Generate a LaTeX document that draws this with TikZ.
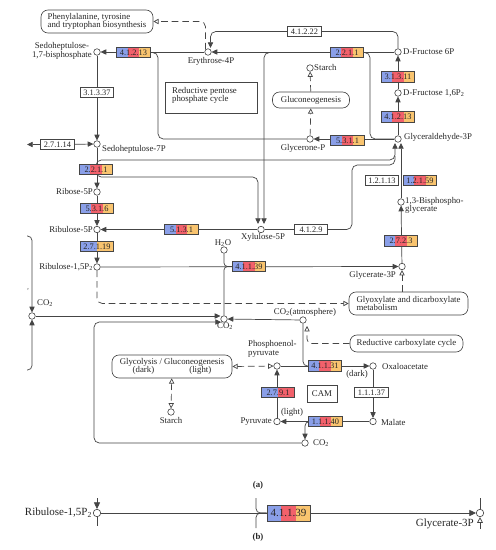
\documentclass[tikz,border=0pt]{standalone}
\usepackage{fontspec}
\setmainfont{Liberation Serif}
\usetikzlibrary{positioning,calc,arrows.meta,backgrounds}

\definecolor{ecblue}{HTML}{8A9FE8}
\definecolor{ecred}{HTML}{F2616B}
\definecolor{ecorange}{HTML}{F9C46F}
\definecolor{linegray}{HTML}{454545}

\newcommand{\lblfont}{\fontsize{10}{9.5}\selectfont}
\newcommand{\bigfont}{\fontsize{12.5}{12.5}\selectfont}
\newcommand{\ecfont}{\fontsize{9.5}{9.5}\selectfont}
\newcommand{\ctwo}{\textsubscript{2}}

\begin{document}
\begin{tikzpicture}[
        x=0.04cm, y=-0.04cm,
        every node/.style={font=\lblfont, text=black!85},
        cpd/.style={circle, draw=linegray, fill=white, line width=0.7pt, minimum size=0.26cm, inner sep=0pt},
        ecw/.style={rectangle, draw=linegray, fill=white, line width=0.6pt, minimum width=1.34cm, minimum height=0.42cm, inner sep=0pt, font=\ecfont},
        ec/.style n args={3}{ecw, path picture={
            \fill[#1] (path picture bounding box.south west) rectangle ($(path picture bounding box.north west)!1/3!(path picture bounding box.north east)$);
            \fill[#2] ($(path picture bounding box.south west)!1/3!(path picture bounding box.south east)$) rectangle ($(path picture bounding box.north west)!2/3!(path picture bounding box.north east)$);
            \fill[#3] ($(path picture bounding box.south west)!2/3!(path picture bounding box.south east)$) rectangle (path picture bounding box.north east);}},
        ecthree/.style={ec={ecblue}{ecred}{ecorange}},
        ectwo/.style 2 args={ecw, path picture={
            \fill[#1] (path picture bounding box.south west) rectangle (path picture bounding box.north);
            \fill[#2] (path picture bounding box.south) rectangle (path picture bounding box.north east);}},
        pmap/.style={rectangle, rounded corners=0.28cm, draw=linegray, fill=white, line width=0.7pt, inner sep=2pt},
        titlebox/.style={rectangle, draw=linegray, fill=white, line width=0.7pt, inner sep=2pt},
        line/.style={draw=linegray, line width=0.8pt},
        arr/.style={line, -{Triangle[length=6.5pt,width=6pt]}},
        arrb/.style={line, -{Triangle[length=7.5pt,width=7pt]}},
        dasharr/.style={line, dash pattern=on 7.5pt off 4.5pt, -{Triangle[open,length=6pt,width=6pt]}},
        dashboth/.style={line, dash pattern=on 7.5pt off 4.5pt, {Triangle[open,length=6pt,width=6pt]}-{Triangle[open,length=6pt,width=6pt]}},
        openarr/.style={line, -{Triangle[open,length=6.5pt,width=6.5pt]}}
        ]
        \useasboundingbox (0,0) rectangle (495,550);

        % pathway maps and title boxes
        \node[pmap, minimum width=4.48cm, minimum height=0.92cm, align=left] (phe) at (97,21.5) {Phenylalanine, tyrosine\\and tryptophan biosynthesis};
        \node[pmap, minimum width=3.08cm, minimum height=0.64cm] (glucon) at (311,100) {Gluconeogenesis};
        \node[titlebox, minimum width=3.68cm, minimum height=1.24cm] (rpp) at (211,97.5) {};
        \node[anchor=north west, align=left, inner sep=0pt] (rpplbl) at (172,87) {Reductive pentose\\phosphate cycle};
        \node[pmap, minimum width=4.76cm, minimum height=0.92cm, align=left] (glyox) at (408.5,303.5) {Glyoxylate and dicarboxylate\\metabolism};
        \node[pmap, minimum width=4.52cm, minimum height=0.68cm] (rcc) at (406.5,343.5) {Reductive carboxylate cycle};
        \node[pmap, minimum width=4.8cm, minimum height=0.92cm, align=center] (glyc) at (172,366.5) {Glycolysis / Gluconeogenesis\\(dark)\hspace{4em}(light)};
        \node[titlebox, minimum width=1.2cm, minimum height=0.68cm] (cam) at (322,393.5) {CAM};

        % compounds
        \node[cpd] (s17bp) at (97,52) {};
        \node[anchor=east, align=center, inner sep=0pt] (s17bplbl) at (92,51) {Sedoheptulose-\\1,7-bisphosphate};
        \node[cpd] (e4p) at (208,52) {};
        \node[anchor=north, inner sep=0pt] (e4plbl) at (211,57) {Erythrose-4P};
        \node[cpd] (f6p) at (398,52) {};
        \node[anchor=west, inner sep=0pt] (f6plbl) at (403,52) {D-Fructose 6P};
        \node[cpd] (fbp) at (398,93) {};
        \node[anchor=west, inner sep=0pt] (fbplbl) at (403,93) {D-Fructose 1,6P\ctwo};
        \node[cpd] (g3p) at (398,139) {};
        \node[anchor=west, inner sep=0pt] (g3plbl) at (404,137) {Glyceraldehyde-3P};
        \node[cpd] (dhap) at (310,139) {};
        \node[anchor=north, inner sep=0pt] (dhaplbl) at (303,144) {Glycerone-P};
        \node[cpd] (starcha) at (310,68) {};
        \node[anchor=west, inner sep=0pt] (starchalbl) at (314,67) {Starch};
        \node[cpd] (s7p) at (97,144) {};
        \node[anchor=west, inner sep=0pt] (s7plbl) at (102,149) {Sedoheptulose-7P};
        \node[cpd] (r5p) at (97,192) {};
        \node[anchor=east, inner sep=0pt] (r5plbl) at (93,191) {Ribose-5P};
        \node[cpd] (ru5p) at (97,229.5) {};
        \node[anchor=east, inner sep=0pt] (ru5plbl) at (93,229) {Ribulose-5P};
        \node[cpd] (x5p) at (261,229.5) {};
        \node[anchor=north, inner sep=0pt] (x5plbl) at (263,233.5) {Xylulose-5P};
        \node[cpd] (rubp) at (97,267) {};
        \node[anchor=east, inner sep=0pt] (rubplbl) at (93,267) {Ribulose-1,5P\ctwo};
        \node[cpd] (h2o) at (224,250) {};
        \node[anchor=south, inner sep=0pt] (h2olbl) at (223,246.5) {H\ctwo O};
        \node[cpd] (bpg) at (401,202) {};
        \node[anchor=west, align=left, inner sep=0pt] (bpglbl) at (405,205.5) {1,3-Bisphospho-\\glycerate};
        \node[cpd] (gly3p) at (402,266.5) {};
        \node[anchor=east, inner sep=0pt] (gly3plbl) at (396,275.5) {Glycerate-3P};
        \node[cpd] (co2a) at (32,316) {};
        \node[anchor=west, inner sep=0pt] (co2albl) at (37,303) {CO\ctwo};
        \node[cpd] (co2b) at (224,319) {};
        \node[anchor=north, inner sep=0pt] (co2blbl) at (225,322.5) {CO\ctwo};
        \node[cpd] (co2atm) at (303,320) {};
        \node[anchor=south, inner sep=0pt] (co2atmlbl) at (305,316.5) {CO\ctwo(atmosphere)};
        \node[cpd] (pep) at (277,366) {};
        \node[anchor=west, align=left, inner sep=0pt] (peplbl) at (248,349) {Phosphoenol-\\pyruvate};
        \node[cpd] (oaa) at (373,366) {};
        \node[anchor=west, inner sep=0pt] (oaalbl) at (382,366) {Oxaloacetate};
        \node[cpd] (pyr) at (277,421.5) {};
        \node[anchor=east, inner sep=0pt] (pyrlbl) at (272,421.5) {Pyruvate};
        \node[cpd] (mal) at (373,421.5) {};
        \node[anchor=west, inner sep=0pt] (mallbl) at (381,422) {Malate};
        \node[cpd] (co2c) at (305,443) {};
        \node[anchor=west, inner sep=0pt] (co2clbl) at (313,443) {CO\ctwo};
        \node[cpd] (starchb) at (171,412) {};
        \node[anchor=north, inner sep=0pt] (starchblbl) at (171,417) {Starch};
        \node[text=black!50, font=\fontsize{5}{5}\selectfont, inner sep=0pt] (stray) at (28,289) {e};
        \node[inner sep=0pt] (darklbl) at (357,374) {(dark)};
        \node[inner sep=0pt] (lightlbl) at (292,412) {(light)};

        % enzymes
        \node[ecthree] (ec41213a) at (133.5,52.5) {4.1.2.13};
        \node[ecthree] (ec2211a) at (347,52.5) {2.2.1.1};
        \node[ecthree] (ec31311) at (398,77) {3.1.3.11};
        \node[ecthree] (ec41213b) at (398,117) {4.1.2.13};
        \node[ecthree] (ec5311) at (347.5,140.5) {5.3.1.1};
        \node[ecthree] (ec2211b) at (96,169.5) {2.2.1.1};
        \node[ecthree] (ec5316) at (97,208.5) {5.3.1.6};
        \node[ecthree] (ec5131) at (181.5,229.5) {5.1.3.1};
        \node[ectwo={ecblue}{ecorange}] (ec27119) at (97,246.5) {2.7.1.19};
        \node[ecthree] (ec41139) at (249,266.5) {4.1.1.39};
        \node[ecthree] (ec12159) at (420,180.5) {1.2.1.59};
        \node[ecthree] (ec2723) at (401,241) {2.7.2.3};
        \node[ecthree] (ec41131) at (325,366) {4.1.1.31};
        \node[ectwo={ecblue}{ecred}] (ec2791) at (278,392.5) {2.7.9.1};
        \node[ecthree] (ec11140) at (325.5,421.5) {1.1.1.40};
        \node[ecw] (ec31337) at (97,92.5) {3.1.3.37};
        \node[ecw] (ec27114) at (57.5,144.5) {2.7.1.14};
        \node[ecw] (ec41222) at (304.5,31.5) {4.1.2.22};
        \node[ecw] (ec4129) at (311,229.5) {4.1.2.9};
        \node[ecw] (ec12113) at (382,180.5) {1.2.1.13};
        \node[ecw] (ec11137) at (371.5,392.5) {1.1.1.37};

        % free ends
        \coordinate (e4ptop) at (210.5,48);
        \coordinate (e4pdash) at (205.5,49.5);
        \coordinate (p27114) at (27,144.5);
        \coordinate (g3pina) at (395,143);
        \coordinate (g3pinc) at (401,143);
        \coordinate (x5pina) at (258,224);
        \coordinate (x5pinb) at (264,224);
        \coordinate (lefttop) at (27,236);
        \coordinate (leftbot) at (27,370);
        \coordinate (co2bin) at (221,322);
        \coordinate (co2atmin) at (307,326);

        % panel labels
        \node[font=\lblfont\bfseries] (pa) at (258,485) {(a)};
        \node[font=\lblfont\bfseries] (pb) at (258,537) {(b)};

        % panel (b)
        \node[cpd, minimum size=0.3cm] (rubpb) at (97,513) {};
        \node[anchor=east, font=\bigfont, inner sep=0pt] (rubpblbl) at (92,513) {Ribulose-1,5P\ctwo};
        \node[ecthree, minimum width=1.72cm, minimum height=0.64cm, font=\bigfont] (ec41139b) at (288.5,513) {4.1.1.39};
        \node[cpd, minimum size=0.3cm] (gly3pb) at (480,513) {};
        \node[anchor=east, font=\bigfont, inner sep=0pt] (gly3pblbl) at (474,523.5) {Glycerate-3P};
        \coordinate (rubpbtop) at (97,498);
        \coordinate (rubpbbot) at (97,526);
        \coordinate (gly3pbtop) at (480,498);
        \coordinate (gly3pbbot) at (480,529);
        \coordinate (bracetop) at (256,498);
        \coordinate (bracebot) at (256,528);

        \begin{pgfonlayer}{background}
        % reductive pentose phosphate cycle
        \draw[arr] (e4p) -- (s17bp);
        \draw[arr] (f6p) -- (e4p);
        \draw[line, rounded corners=6] (ec41213a.center) -| (158,139) -- (dhap);
        \draw[arr, rounded corners=6] (f6p) |- (ec41222.east) -- (ec41222.west) -| (e4ptop);
        \draw[dasharr, rounded corners=6] (e4pdash) |- (phe.east);
        \draw[arr] (s17bp) -- (s7p);
        \draw[arr] (ec27114) -- (s7p);
        \draw[arr] (ec27114) -- (p27114);
        \draw[arr] (s7p) -- (r5p);
        \draw[arr] (r5p) -- (ru5p);
        \draw[arr] (x5p) -- (ru5p);
        \draw[arr] (ru5p) -- (rubp);
        \draw[arr, rounded corners=6] (ec2211a.center) -| (x5pinb);
        \draw[line, rounded corners=6] (ec2211a.center) -| (370,139) -- (g3p);
        \draw[arr, rounded corners=6] (ec2211b.center) |- (395,160) -- (g3pina);
        \draw[arr, rounded corners=6] (ec2211b.center) |- (258,177) -- (x5pina);
        \draw[line, rounded corners=6] (x5p) -- (352,229.5) -- (352,165) -- (395,165) -- (395,156);
        \draw[arr] (fbp) -- (f6p);
        \draw[arr] (g3p) -- (fbp);
        \draw[arr] (g3p) -- (dhap);
        \draw[dasharr] (dhap) -- (glucon);
        \draw[dasharr] (glucon) -- (starcha);
        \draw[arr] (bpg) -- (g3pinc);
        \draw[arr] (gly3p) -- (bpg);
        % carboxylation
        \draw[arr] (rubp) -- (gly3p);
        \draw[line, rounded corners=4] (h2o) |- (ec41139.west);
        \draw[line, rounded corners=4] (ec41139.west) -| (co2b);
        \draw[dasharr, rounded corners=6] (rubp) |- (glyox.west);
        \draw[dasharr] (glyox.north -| gly3p) -- (gly3p);
        \draw[arr, rounded corners=5] (lefttop) -| (co2a);
        \draw[arr, rounded corners=5] (leftbot) -| (co2a);
        \draw[arr] (co2a) -- (co2b.west |- co2a);
        \draw[arr, rounded corners=6] (co2c) -| (94,322) -- (co2bin);
        \draw[arr] (co2atm) -- (co2b);
        \draw[line, rounded corners=5] (co2atm) |- (ec41131.west);
        \draw[dasharr, rounded corners=5] (rcc.west) -| (co2atmin);
        % CAM
        \draw[arr] (pep) -- (oaa);
        \draw[dashboth] (glyc.east) -- (pep);
        \draw[dashboth] (glyc) -- (starchb);
        \draw[arr] (oaa) -- (mal);
        \draw[arr] (mal) -- (pyr);
        \draw[arr, rounded corners=5] (ec11140.center) -| (co2c);
        \draw[arr] (pyr) -- (pep);
        % panel (b)
        \draw[arrb] (rubpbtop) -- (rubpb);
        \draw[line] (rubpb) -- (rubpbbot);
        \draw[arrb] (rubpb) -- (gly3pb);
        \draw[line, rounded corners=5] (bracetop) |- (ec41139b.west);
        \draw[line, rounded corners=5] (ec41139b.west) -| (bracebot);
        \draw[line] (gly3pbtop) -- (gly3pb);
        \draw[openarr] (gly3pbbot) -- (gly3pb);
        \end{pgfonlayer}
\end{tikzpicture}
\end{document}
